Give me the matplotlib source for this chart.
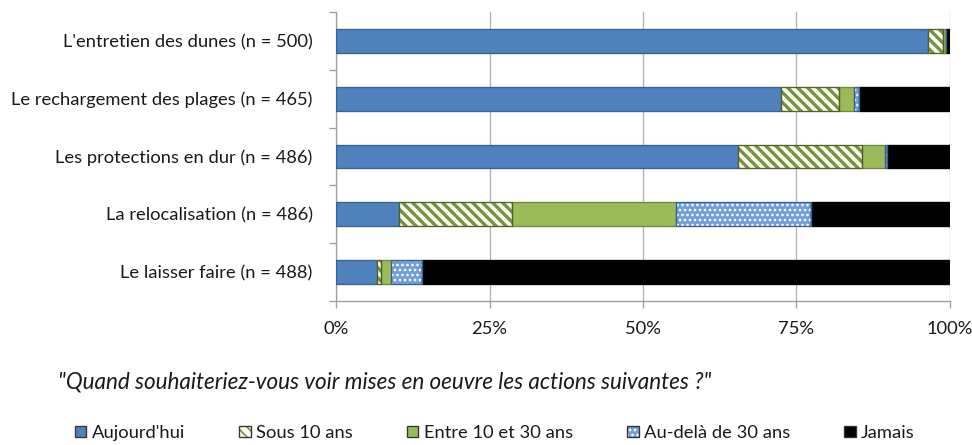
import matplotlib
matplotlib.use("Agg")
import matplotlib.pyplot as plt
from matplotlib.patches import Patch
import numpy as np

categories = [
    "L'entretien des dunes (n = 500)",
    "Le rechargement des plages (n = 465)",
    "Les protections en dur (n = 486)",
    "La relocalisation (n = 486)",
    "Le laisser faire (n = 488)",
]
series_names = ["Aujourd'hui", "Sous 10 ans", "Entre 10 et 30 ans",
                "Au-delà de 30 ans", "Jamais"]
aujourdhui = [96.4, 72.5, 65.5, 10.3, 6.7]
sous_10 = [2.5, 9.5, 20.2, 18.3, 0.6]
entre_10_30 = [0.4, 2.4, 3.7, 26.7, 1.6]
au_dela_30 = [0.0, 0.7, 0.3, 22.0, 5.1]
jamais = [0.7, 14.9, 10.3, 22.7, 86.0]
xticks = [0, 25, 50, 75, 100]
xtick_labels = ["0%", "25%", "50%", "75%", "100%"]
title = "\"Quand souhaiteriez-vous voir mises en oeuvre les actions suivantes ?\""

# face, hatch colour, hatch, outline
styles = [
    ("#4F81BD", None, None, "#3A6190"),
    ("#FBFCF2", "#76923C", "\\\\\\\\", "#4F6228"),
    ("#9BBB59", None, None, "#6E8A3A"),
    ("#6F9ED8", "#FFFFFF", "....", "#3A6190"),
    ("#000000", None, None, "#000000"),
]

plt.rcParams['font.family'] = ['Lato', 'DejaVu Sans']
fs = 11
txt = "#1a1a1a"

fig = plt.figure(figsize=(973 / 120, 445 / 120), dpi=120)
ax = fig.add_axes([336 / 973, 1 - 301 / 445, (950 - 336) / 973, (301 - 12) / 445])

data = [aujourdhui, sous_10, entre_10_30, au_dela_30, jamais]
y = np.arange(len(categories))[::-1]
left = np.zeros(len(categories))
handles = []
h = 0.415
for vals, (face, hcol, hatch, edge) in zip(data, styles):
    vals = np.array(vals)
    if hatch:
        hlw = 2.0 if hcol != "#FFFFFF" else 1.0
        with plt.rc_context({'hatch.linewidth': hlw}):
            ax.barh(y, vals, left=left, height=h, color=face, edgecolor=hcol,
                    hatch=hatch, linewidth=0, zorder=3)
            hp = Patch(facecolor=face, edgecolor=hcol, hatch=hatch, linewidth=0)
        ax.barh(y, vals, left=left, height=h, fill=False, edgecolor=edge,
                linewidth=0.8, zorder=4)
        handles.append((hp, Patch(fill=False, edgecolor="#333333", linewidth=0.8)))
    else:
        ax.barh(y, vals, left=left, height=h, color=face, edgecolor=edge,
                linewidth=0.8, zorder=3)
        handles.append(Patch(facecolor=face, edgecolor="#333333", linewidth=0.8))
    left += vals

ax.set_xlim(0, 100)
ax.set_ylim(-0.5, len(categories) - 0.5)
ax.set_xticks(xticks)
ax.set_xticklabels(xtick_labels, fontsize=fs, color=txt)
ax.set_yticks(y)
ax.set_yticklabels(categories, fontsize=fs, color=txt)
ax.set_yticks(np.arange(len(categories) + 1) - 0.5, minor=True)
ax.tick_params(axis='y', which='major', length=0, pad=14)
ax.tick_params(axis='y', which='minor', length=4, color="#A0A0A0", width=0.8)
ax.tick_params(axis='x', length=4, color="#A0A0A0", width=0.8, pad=8)
ax.grid(axis='x', color="#B4B4B4", linewidth=0.8, zorder=0)
for s in ['top', 'right']:
    ax.spines[s].set_visible(False)
for s in ['left', 'bottom']:
    ax.spines[s].set_color("#A0A0A0")
    ax.spines[s].set_linewidth(0.8)

fig.text(58 / 973, 1 - 382 / 445, title, fontsize=13.5, style='italic',
         color=txt, va='center', ha='left')

fig.legend(handles, series_names, loc='center', ncol=5, frameon=False,
           bbox_to_anchor=(495 / 973, 1 - 433 / 445), fontsize=fs,
           handlelength=0.62, handleheight=0.62, handletextpad=0.3,
           columnspacing=2.95, labelcolor=txt)

fig.savefig("out.png", dpi=120)
